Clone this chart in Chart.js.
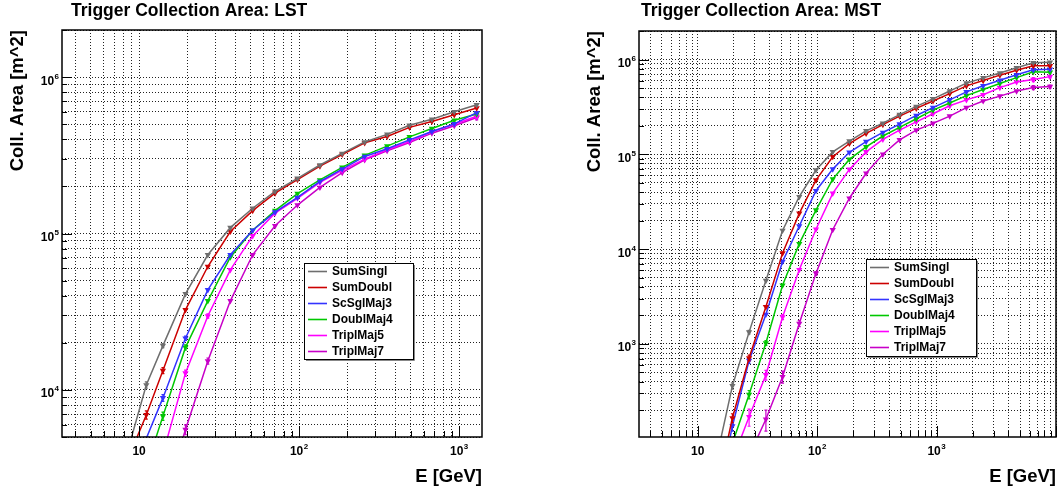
<!DOCTYPE html>
<html>
<head>
<meta charset="utf-8">
<script src="https://cdn.jsdelivr.net/npm/chart.js@4.4.0/dist/chart.umd.min.js"></script>
<style>
  body { margin: 0; background: #fff; }
  #wrap { position: relative; width: 1060px; height: 493px; }
  canvas { position: absolute; top: 0; }
</style>
</head>
<body>
<div id="wrap">
  <canvas id="lst" width="530" height="493" style="left:0"></canvas>
  <canvas id="mst" width="530" height="493" style="left:530px"></canvas>
</div>
<script>
const seriesNames = ['SumSingl', 'SumDoubl', 'ScSglMaj3', 'DoublMaj4', 'TriplMaj5', 'TriplMaj7'];
const seriesColors = ['#6e6e6e', '#cc0000', '#3333ff', '#00c800', '#ff00ff', '#c800c8'];

// energy bin centres [GeV]
const lstEnergy = [8.0, 11.1, 14.1, 19.5, 26.9, 37.2, 51.3, 70.8, 97.7, 135, 186, 257, 355, 490, 676, 933, 1288];
const mstEnergy = [14.1, 19.5, 26.9, 37.2, 51.3, 70.8, 97.7, 135, 186, 257, 355, 490, 676, 933, 1288, 1778, 2455, 3388, 4677, 6457, 8913];

// LST collection area [m^2]
const lstSumSingl  = [3300, 10760, 19200, 41100, 73100, 109000, 145000, 186000, 225000, 274000, 325000, 385000, 430000, 492000, 537000, 600000, 665000];
const lstSumDoubl  = [3100, 6920, 13300, 32500, 61500, 103000, 140000, 181000, 221000, 270000, 320000, 380000, 417000, 477000, 520000, 574000, 634000];
const lstScSglMaj3 = [2000, 4900, 8890, 21400, 43600, 73100, 105000, 137000, 170000, 215000, 258000, 311000, 348000, 397000, 449000, 502000, 592000];
const lstDoublMaj4 = [1500, 3200, 6800, 18700, 37100, 70600, 105000, 140000, 180000, 220000, 265000, 316000, 362000, 415000, 469000, 530000, 580000];
const lstTriplMaj5 = [1000, 2000, 3900, 12800, 29700, 58600, 96600, 135000, 168000, 212000, 253000, 299000, 343000, 387000, 449000, 500000, 562000];
const lstTriplMaj7 = [300, 700, 1900, 5570, 15300, 37100, 73100, 112000, 152000, 197000, 245000, 296000, 338000, 382000, 438000, 489000, 552000];

// LST error bars (absolute, 0 = not visible)
const lstErrSumSingl  = [0, 500, 600, 0, 0, 0, 0, 0, 0, 0, 0, 0, 0, 0, 0, 0, 0];
const lstErrSumDoubl  = [0, 420, 600, 0, 0, 0, 0, 0, 0, 0, 0, 0, 0, 0, 0, 0, 0];
const lstErrScSglMaj3 = [0, 0, 450, 700, 0, 0, 0, 0, 0, 0, 0, 0, 0, 0, 0, 0, 0];
const lstErrDoublMaj4 = [0, 0, 420, 700, 0, 0, 0, 0, 0, 0, 0, 0, 0, 0, 0, 0, 0];
const lstErrTriplMaj5 = [0, 0, 0, 600, 900, 0, 0, 0, 0, 0, 0, 0, 0, 0, 0, 0, 20000];
const lstErrTriplMaj7 = [0, 0, 0, 400, 700, 0, 0, 0, 0, 0, 0, 0, 0, 0, 0, 0, 20000];

// MST collection area [m^2]
const mstSumSingl  = [56, 360, 1330, 4650, 15700, 35700, 68200, 106000, 138000, 177000, 213000, 262000, 320000, 385000, 466000, 563000, 640000, 720000, 820000, 925000, 937000];
const mstSumDoubl  = [25, 165, 710, 2460, 9060, 23800, 53500, 94200, 130000, 166000, 206000, 253000, 305000, 365000, 437000, 527000, 600000, 684000, 772000, 858000, 858000];
const mstScSglMaj3 = [18, 136, 665, 2040, 7380, 17500, 41300, 69800, 105000, 136000, 170000, 208000, 257000, 311000, 375000, 456000, 528000, 605000, 690000, 778000, 790000];
const mstDoublMaj4 = [20, 89, 292, 1020, 4150, 11400, 25800, 54800, 88300, 120000, 156000, 192000, 237000, 293000, 348000, 416000, 483000, 559000, 644000, 741000, 735000];
const mstTriplMaj5 = [10, 59, 170, 470, 1920, 6050, 16200, 38700, 69300, 106000, 144000, 180000, 220000, 268000, 325000, 375000, 425000, 505000, 580000, 615000, 660000];
const mstTriplMaj7 = [5, 25, 66, 160, 450, 1640, 5540, 16000, 34400, 63100, 100000, 142000, 180000, 212000, 253000, 311000, 365000, 411000, 465000, 507000, 518000];

// MST error bars (absolute, 0 = not visible)
const mstErrSumSingl  = [0, 27, 60, 0, 0, 0, 0, 0, 0, 0, 0, 0, 0, 0, 0, 0, 0, 0, 0, 15000, 15000];
const mstErrSumDoubl  = [0, 18, 50, 0, 0, 0, 0, 0, 0, 0, 0, 0, 0, 0, 0, 0, 0, 0, 0, 15000, 15000];
const mstErrScSglMaj3 = [0, 16, 45, 0, 0, 0, 0, 0, 0, 0, 0, 0, 0, 0, 0, 0, 0, 0, 0, 15000, 15000];
const mstErrDoublMaj4 = [0, 0, 30, 60, 0, 0, 0, 0, 0, 0, 0, 0, 0, 0, 0, 0, 0, 0, 0, 15000, 15000];
const mstErrTriplMaj5 = [0, 0, 35, 55, 120, 0, 0, 0, 0, 0, 0, 0, 0, 0, 0, 0, 0, 0, 0, 30000, 20000];
const mstErrTriplMaj7 = [0, 0, 0, 40, 65, 120, 250, 0, 0, 0, 0, 0, 0, 0, 0, 0, 0, 0, 0, 25000, 20000];

// axis tick labels
const lstXTickValues = [10, 100, 1000];
const lstXTickLabels = ['10', '10^2', '10^3'];
const lstYTickValues = [1e4, 1e5, 1e6];
const lstYTickLabels = ['10^4', '10^5', '10^6'];
const mstXTickValues = [10, 100, 1000];
const mstXTickLabels = ['10', '10^2', '10^3'];
const mstYTickValues = [1e3, 1e4, 1e5, 1e6];
const mstYTickLabels = ['10^3', '10^4', '10^5', '10^6'];

const FONT = '"Liberation Sans", Arial, Helvetica, sans-serif';

function decadeTicks(min, max) {
    const ticks = [];
    for (let e = Math.floor(Math.log10(min)); e <= Math.ceil(Math.log10(max)); e++) {
        for (let m = 1; m <= 9; m++) {
            const v = m * Math.pow(10, e);
            if (v >= min * 0.999 && v <= max * 1.001) ticks.push({ value: v, major: m === 1 });
        }
    }
    return ticks;
}

function drawPowerLabel(ctx, label, x, baseY, align) {
    const parts = label.split('^');
    ctx.font = 'bold 12px ' + FONT;
    const wb = ctx.measureText(parts[0]).width;
    let we = 0;
    if (parts[1]) {
        ctx.font = 'bold 8px ' + FONT;
        we = ctx.measureText(parts[1]).width + 0.5;
    }
    const x0 = align === 'center' ? x - (wb + we) / 2 : x - wb - we;
    ctx.textAlign = 'left';
    ctx.textBaseline = 'alphabetic';
    ctx.font = 'bold 12px ' + FONT;
    ctx.fillText(parts[0], x0, baseY);
    if (parts[1]) {
        ctx.font = 'bold 8px ' + FONT;
        ctx.fillText(parts[1], x0 + wb + 0.5, baseY - 6);
    }
}

// vertical error bars, drawn with each dataset
const errorBars = {
    id: 'errorBars',
    afterDatasetDraw(chart, args) {
        const ds = chart.data.datasets[args.index];
        if (!ds.errors) return;
        const ctx = chart.ctx;
        const area = chart.chartArea;
        const ys = chart.scales.y;
        ctx.save();
        ctx.beginPath();
        ctx.rect(area.left, area.top, area.right - area.left, area.bottom - area.top);
        ctx.clip();
        ctx.strokeStyle = ds.borderColor;
        ctx.lineWidth = 1.2;
        ctx.beginPath();
        args.meta.data.forEach((pt, i) => {
            const err = ds.errors[i];
            if (!err) return;
            const v = ds.data[i].y;
            const yTop = ys.getPixelForValue(v + err);
            const yBot = ys.getPixelForValue(Math.max(v - err, v * 0.05));
            ctx.moveTo(pt.x, yTop);
            ctx.lineTo(pt.x, yBot);
            ctx.moveTo(pt.x - 1.5, yTop);
            ctx.lineTo(pt.x + 1.5, yTop);
            ctx.moveTo(pt.x - 1.5, yBot);
            ctx.lineTo(pt.x + 1.5, yBot);
        });
        ctx.stroke();
        ctx.restore();
    }
};

// ROOT-like frame, ticks, labels, titles and legend
const rootStyle = {
    id: 'rootStyle',
    afterDatasetsDraw(chart, args, opts) {
        const ctx = chart.ctx;
        const area = chart.chartArea;
        const xs = chart.scales.x;
        const ys = chart.scales.y;
        ctx.save();
        ctx.fillStyle = '#000';
        ctx.strokeStyle = '#000';

        // tick marks on bottom and left axes
        ctx.lineWidth = 1;
        ctx.beginPath();
        xs.ticks.forEach(t => {
            const px = Math.round(xs.getPixelForValue(t.value)) + 0.5;
            ctx.moveTo(px, area.bottom);
            ctx.lineTo(px, area.bottom - (t.major ? 11 : 6));
        });
        ys.ticks.forEach(t => {
            const py = Math.round(ys.getPixelForValue(t.value)) + 0.5;
            ctx.moveTo(area.left, py);
            ctx.lineTo(area.left + (t.major ? 10 : 5), py);
        });
        ctx.stroke();

        // frame
        ctx.lineWidth = 1.5;
        ctx.strokeRect(area.left, area.top, area.right - area.left, area.bottom - area.top);

        // tick labels
        opts.xTicks.forEach((v, i) => {
            drawPowerLabel(ctx, opts.xLabels[i], xs.getPixelForValue(v), area.bottom + 18, 'center');
        });
        opts.yTicks.forEach((v, i) => {
            drawPowerLabel(ctx, opts.yLabels[i], area.left - 3, ys.getPixelForValue(v) + 7.5, 'right');
        });

        // title
        ctx.font = 'bold 17.5px ' + FONT;
        ctx.textAlign = 'left';
        ctx.textBaseline = 'alphabetic';
        ctx.fillText(opts.title, opts.titleX, 16);

        // axis titles
        ctx.font = 'bold 18.5px ' + FONT;
        ctx.textAlign = 'right';
        ctx.fillText('E [GeV]', area.right, 482);
        ctx.save();
        ctx.translate(opts.yTitleX, area.top);
        ctx.rotate(-Math.PI / 2);
        ctx.textBaseline = 'middle';
        ctx.fillText('Coll. Area [m^2]', 0, 0);
        ctx.restore();

        // legend box
        const b = opts.legendBox;
        ctx.fillStyle = '#fff';
        ctx.fillRect(b.x, b.y, b.w, b.h);
        ctx.lineWidth = 1;
        ctx.strokeStyle = '#888';
        ctx.beginPath();
        ctx.moveTo(b.x + b.w + 1.5, b.y + 2);
        ctx.lineTo(b.x + b.w + 1.5, b.y + b.h + 1.5);
        ctx.lineTo(b.x + 2, b.y + b.h + 1.5);
        ctx.stroke();
        ctx.strokeStyle = '#000';
        ctx.strokeRect(b.x + 0.5, b.y + 0.5, b.w, b.h);
        chart.data.datasets.forEach((ds, i) => {
            const ry = b.y + 8.5 + i * 16;
            ctx.strokeStyle = ds.borderColor;
            ctx.lineWidth = 1.6;
            ctx.beginPath();
            ctx.moveTo(b.x + 4, ry);
            ctx.lineTo(b.x + 23, ry);
            ctx.stroke();
            ctx.fillStyle = '#000';
            ctx.font = 'bold 12px ' + FONT;
            ctx.textAlign = 'left';
            ctx.textBaseline = 'middle';
            ctx.fillText(ds.label, b.x + 28, ry + 0.5);
        });
        ctx.restore();
    }
};

function buildDatasets(energy, values, errors) {
    return values.map((vals, i) => ({
        label: seriesNames[i],
        data: vals.map((v, k) => ({ x: energy[k], y: v })),
        errors: errors[i],
        borderColor: seriesColors[i],
        backgroundColor: seriesColors[i],
        borderWidth: 1.5,
        pointStyle: 'triangle',
        rotation: 180,
        pointRadius: 3.6,
        pointBorderWidth: 0,
        tension: 0,
        fill: false
    }));
}

function makeChart(canvasId, cfg) {
    const ctx = document.getElementById(canvasId).getContext('2d');
    return new Chart(ctx, {
        type: 'line',
        data: { datasets: buildDatasets(cfg.energy, cfg.values, cfg.errors) },
        options: {
            responsive: false,
            animation: false,
            devicePixelRatio: 1,
            layout: { padding: cfg.padding },
            plugins: {
                legend: { display: false },
                title: { display: false },
                tooltip: { enabled: false },
                rootStyle: cfg.style
            },
            scales: {
                x: {
                    type: 'logarithmic',
                    min: cfg.xMin,
                    max: cfg.xMax,
                    afterBuildTicks: scale => { scale.ticks = decadeTicks(cfg.xMin, cfg.xMax); },
                    ticks: { display: false, autoSkip: false },
                    grid: { color: '#222', lineWidth: 1, drawTicks: false },
                    border: { display: false, dash: [1, 2] }
                },
                y: {
                    type: 'logarithmic',
                    min: cfg.yMin,
                    max: cfg.yMax,
                    afterBuildTicks: scale => { scale.ticks = decadeTicks(cfg.yMin, cfg.yMax); },
                    ticks: { display: false, autoSkip: false },
                    grid: { color: '#222', lineWidth: 1, drawTicks: false },
                    border: { display: false, dash: [1, 2] }
                }
            }
        },
        plugins: [errorBars, rootStyle]
    });
}

makeChart('lst', {
    energy: lstEnergy,
    values: [lstSumSingl, lstSumDoubl, lstScSglMaj3, lstDoublMaj4, lstTriplMaj5, lstTriplMaj7],
    errors: [lstErrSumSingl, lstErrSumDoubl, lstErrScSglMaj3, lstErrDoublMaj4, lstErrTriplMaj5, lstErrTriplMaj7],
    xMin: 3.3, xMax: 1390, yMin: 5000, yMax: 2e6,
    padding: { left: 62, right: 48, top: 30, bottom: 56 },
    style: {
        title: 'Trigger Collection Area: LST', titleX: 71, yTitleX: 18,
        xTicks: lstXTickValues, xLabels: lstXTickLabels,
        yTicks: lstYTickValues, yLabels: lstYTickLabels,
        legendBox: { x: 304, y: 263, w: 109, h: 96 }
    }
});

makeChart('mst', {
    energy: mstEnergy,
    values: [mstSumSingl, mstSumDoubl, mstScSglMaj3, mstDoublMaj4, mstTriplMaj5, mstTriplMaj7],
    errors: [mstErrSumSingl, mstErrSumDoubl, mstErrScSglMaj3, mstErrDoublMaj4, mstErrTriplMaj5, mstErrTriplMaj7],
    xMin: 3.22, xMax: 10000, yMin: 104, yMax: 2e6,
    padding: { left: 109, right: 2, top: 31, bottom: 56 },
    style: {
        title: 'Trigger Collection Area: MST', titleX: 111, yTitleX: 65,
        xTicks: mstXTickValues, xLabels: mstXTickLabels,
        yTicks: mstYTickValues, yLabels: mstYTickLabels,
        legendBox: { x: 336, y: 259, w: 110, h: 97 }
    }
});
</script>
</body>
</html>
